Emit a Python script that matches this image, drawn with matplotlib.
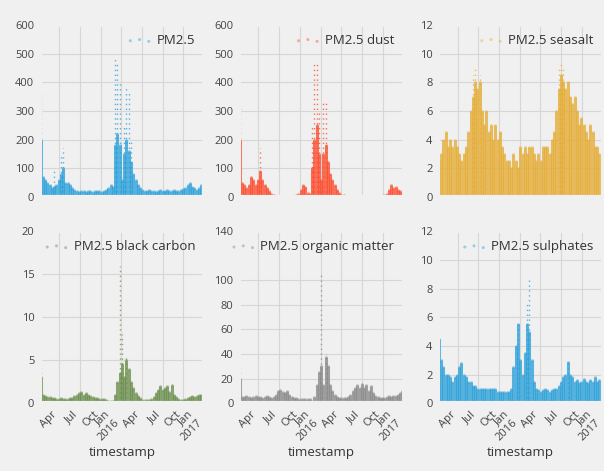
import matplotlib
matplotlib.use("Agg")
import matplotlib.pyplot as plt
import matplotlib.dates as mdates
from matplotlib.ticker import FuncFormatter
import pandas as pd

# 10-day sampled readings (upper edge of the dense cloud of points)
dates = pd.date_range("2015-01-08", periods=73, freq="10D")

pm25_band = [200, 70, 60, 50, 40, 30, 35, 40, 60, 80, 100, 50, 50, 40, 30, 25, 20, 18, 22, 20,
             18, 20, 22, 18, 20, 22, 20, 18, 22, 25, 30, 40, 35, 180, 220, 180, 60, 150, 200, 160,
             120, 80, 60, 40, 30, 25, 22, 20, 25, 22, 20, 18, 22, 25, 20, 22, 25, 20, 22, 25,
             20, 22, 25, 28, 30, 40, 50, 35, 30, 25, 30, 40, 30]
dust_band = [200, 50, 40, 30, 40, 70, 60, 40, 60, 90, 60, 40, 30, 20, 10, 5, 4, 3, 3, 3,
             4, 3, 3, 3, 4, 5, 10, 25, 40, 35, 15, 10, 100, 200, 250, 150, 60, 150, 180, 120,
             80, 60, 40, 25, 15, 8, 5, 4, 3, 3, 3, 3, 3, 3, 3, 3, 3, 3, 3, 3,
             3, 3, 4, 4, 5, 10, 25, 40, 30, 35, 25, 20, 15]
seasalt_band = [2.5, 3, 4, 4.5, 3.5, 4, 3.5, 4, 3.5, 3, 2.5, 3, 3.5, 4.5, 6, 7, 8, 7.5, 8, 6,
                5, 6, 4.5, 5, 4, 5, 4, 4.5, 3.5, 3, 2.5, 2.5, 2, 3, 2.5, 2, 3.5, 3, 3.5, 3,
                3.5, 3.5, 3, 2.5, 3, 2.5, 3.5, 3.5, 3.5, 3, 4, 4.5, 6, 7.5, 8.5, 8, 7.5, 8, 7, 6.5,
                7, 6, 5, 5.5, 5, 4.5, 4, 5, 4.5, 3.5, 3.5, 3, 3]
bc_band = [3, 1, 0.8, 0.7, 0.7, 0.6, 0.6, 0.5, 0.5, 0.6, 0.5, 0.5, 0.5, 0.6, 0.6, 0.8, 1.0, 1.2, 1.3, 1.0,
           1.2, 0.9, 0.8, 0.7, 0.6, 0.6, 0.5, 0.5, 0.5, 0.4, 0.3, 0.2, 0.3, 1.0, 2.5, 3.5, 4.5, 3.0, 5.0, 4.0,
           2.5, 1.8, 1.2, 0.8, 0.6, 0.4, 0.4, 0.4, 0.4, 0.5, 0.7, 1.2, 1.5, 2.0, 1.5, 1.8, 2.0, 1.3, 2.1, 1.0,
           0.7, 0.5, 0.4, 0.4, 0.5, 0.6, 0.7, 0.8, 0.7, 0.8, 0.9, 1.0, 1.2]
om_band = [20, 5, 5, 6, 5, 4, 5, 6, 5, 5, 4, 5, 6, 5, 4, 5, 7, 10, 11, 9,
           8, 10, 7, 5, 4, 4, 3, 3, 3, 3, 3, 3, 2, 5, 15, 25, 30, 15, 38, 30,
           15, 10, 7, 5, 4, 4, 4, 4, 5, 7, 10, 12, 15, 12, 16, 12, 15, 10, 14, 8,
           6, 5, 4, 4, 4, 5, 6, 5, 6, 6, 7, 8, 10]
so4_band = [4.5, 3, 2.5, 2.0, 2.0, 1.8, 1.5, 1.8, 2.0, 2.5, 2.8, 2.0, 1.8, 1.5, 1.5, 1.2, 1.2, 1.0, 1.0, 1.0,
            1.0, 1.0, 1.0, 1.0, 1.0, 1.0, 0.8, 0.8, 0.8, 0.8, 0.8, 0.8, 1.0, 2.5, 4.0, 5.5, 3.0, 2.0, 3.5, 5.5,
            5.0, 3.0, 1.5, 1.0, 0.9, 0.8, 0.9, 1.0, 0.9, 0.8, 0.9, 1.0, 1.0, 1.2, 1.5, 1.8, 2.0, 2.9, 2.0, 1.8,
            1.5, 1.6, 1.4, 1.5, 1.7, 1.5, 1.4, 1.6, 1.5, 1.8, 1.5, 1.6, 1.7]

# sparse high readings above the dense cloud
pm25_spike_dates = ["2015-01-08", "2015-03-09", "2015-04-08", "2015-04-18", "2015-12-04", "2015-12-14",
                    "2015-12-24", "2016-01-13", "2016-01-23", "2016-02-02", "2016-02-12"]
pm25_spike_vals = [360, 100, 150, 170, 480, 470, 400, 250, 380, 370, 200]
dust_spike_dates = ["2015-01-08", "2015-04-08", "2015-11-24", "2015-12-04", "2015-12-14", "2015-12-24",
                    "2016-01-13", "2016-01-23"]
dust_spike_vals = [320, 170, 250, 470, 470, 300, 330, 330]
seasalt_spike_dates = ["2015-06-07", "2015-06-17", "2015-07-07", "2016-06-21", "2016-07-01", "2016-07-11"]
seasalt_spike_vals = [8.5, 9, 8.5, 9, 9.5, 9]
bc_spike_dates = ["2015-01-08", "2015-12-24", "2016-01-03", "2016-01-23"]
bc_spike_vals = [4.5, 16, 8, 5.5]
om_spike_dates = ["2015-01-08", "2016-01-03", "2016-01-23"]
om_spike_vals = [30, 105, 40]
so4_spike_dates = ["2015-12-24", "2016-02-02", "2016-02-12", "2016-07-31"]
so4_spike_vals = [5.7, 7, 8.6, 2.9]

labels = ["PM2.5", "PM2.5 dust", "PM2.5 seasalt",
          "PM2.5 black carbon", "PM2.5 organic matter", "PM2.5 sulphates"]
bands = [pm25_band, dust_band, seasalt_band, bc_band, om_band, so4_band]
spikes = [(pm25_spike_dates, pm25_spike_vals), (dust_spike_dates, dust_spike_vals),
          (seasalt_spike_dates, seasalt_spike_vals), (bc_spike_dates, bc_spike_vals),
          (om_spike_dates, om_spike_vals), (so4_spike_dates, so4_spike_vals)]
colors = ["#30a2da", "#fc4f30", "#e5ae38", "#6d904f", "#8b8b8b", "#30a2da"]
yticks = [range(0, 601, 100), range(0, 601, 100), range(0, 13, 2),
          range(0, 21, 5), [0, 20, 40, 60, 80, 100, 140], range(0, 13, 2)]
ylims = [600, 600, 12, 20, 140, 12]

plt.style.use("fivethirtyeight")
plt.rcParams["font.family"] = ["Open Sans", "DejaVu Sans"]
plt.rcParams["figure.facecolor"] = "#f0f0f0"
plt.rcParams["axes.facecolor"] = "#f0f0f0"

fig, axes = plt.subplots(2, 3, figsize=(6.04, 4.71), dpi=100, sharex=True)
fig.subplots_adjust(left=0.066, right=0.998, top=0.947, bottom=0.144, wspace=0.21, hspace=0.2)


def quarter_fmt(x, pos):
    d = mdates.num2date(x)
    if d.month == 1:
        return d.strftime("%b\n%Y")
    return d.strftime("%b")


for ax, lab, band, (sd, sv), col, yt, ym in zip(axes.flat, labels, bands, spikes, colors, yticks, ylims):
    ax.vlines(pd.to_datetime(sd), 0, sv, colors=col, linestyles=(0, (1, 2.5)), lw=1.0, alpha=0.8)
    ax.vlines(dates, 0, band, colors=col, lw=2.2, alpha=0.8)
    ax.scatter(dates, band, s=4, color=col, alpha=0.45, lw=0, label=lab)
    ax.set_ylim(0, ym)
    ax.set_yticks(list(yt))
    ax.set_xlim(pd.Timestamp("2015-01-05"), pd.Timestamp("2017-01-02"))
    ax.grid(True, color="#d6d6d6", lw=0.8)
    ax.tick_params(axis="both", labelsize=8, labelcolor="#444444", length=0, pad=4)
    ax.legend(loc="upper right", frameon=False, fontsize=9.5, scatterpoints=3,
              markerscale=1.1, handletextpad=0.3, borderaxespad=0.3, labelcolor="#333333")

for ax in axes.flat:
    ax.xaxis.set_major_locator(mdates.MonthLocator(bymonth=[1, 4, 7, 10]))
    ax.xaxis.set_major_formatter(FuncFormatter(quarter_fmt))

for ax in axes[1]:
    plt.setp(ax.get_xticklabels(), rotation=45, ha="right", rotation_mode="default", fontsize=8)
    ax.set_xlabel("timestamp", fontsize=9.5, color="#333333", labelpad=2)

fig.savefig("out.png", dpi=100, facecolor="#f0f0f0")
